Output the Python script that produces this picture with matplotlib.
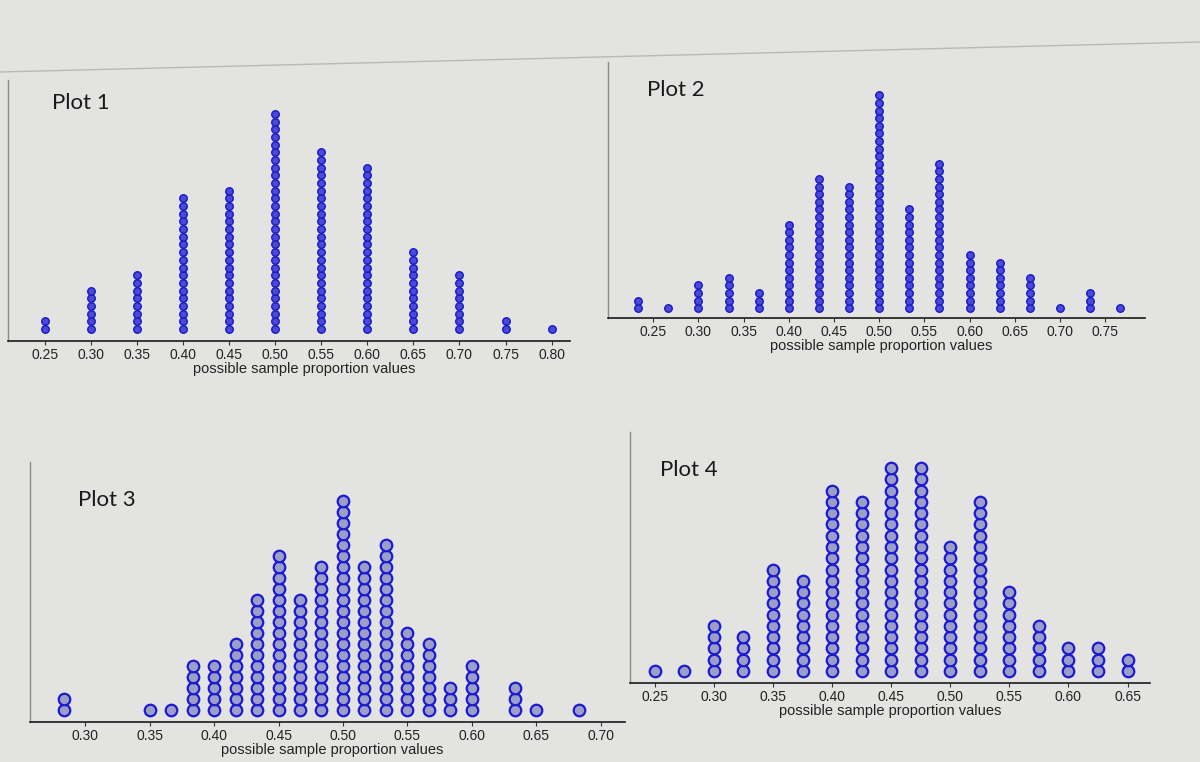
import numpy as np
import matplotlib
matplotlib.use("Agg")
import matplotlib.pyplot as plt
from matplotlib.lines import Line2D

# ---------------- data ----------------
# Plot 1: sample size 20
p1_values = [0.25, 0.30, 0.35, 0.40, 0.45, 0.50, 0.55, 0.60, 0.65, 0.70, 0.75, 0.80]
p1_counts = [2, 6, 8, 18, 19, 29, 24, 22, 11, 8, 2, 1]
p1_ticks = [0.25, 0.30, 0.35, 0.40, 0.45, 0.50, 0.55, 0.60, 0.65, 0.70, 0.75, 0.80]

# Plot 2: sample size 30
p2_n = 30
p2_numerators = [7, 8, 9, 10, 11, 12, 13, 14, 15, 16, 17, 18, 19, 20, 21, 22, 23]
p2_counts = [2, 1, 4, 5, 3, 12, 18, 17, 29, 14, 20, 8, 7, 5, 1, 3, 1]
p2_ticks = [0.25, 0.30, 0.35, 0.40, 0.45, 0.50, 0.55, 0.60, 0.65, 0.70, 0.75]

# Plot 3: sample size 60
p3_n = 60
p3_numerators = [17, 21, 22, 23, 24, 25, 26, 27, 28, 29, 30, 31, 32, 33, 34, 35, 36, 38, 39, 41]
p3_counts = [2, 1, 1, 5, 5, 7, 11, 15, 11, 14, 20, 14, 16, 8, 7, 3, 5, 3, 1, 1]
p3_ticks = [0.30, 0.35, 0.40, 0.45, 0.50, 0.55, 0.60, 0.65, 0.70]

# Plot 4: sample size 40
p4_n = 40
p4_numerators = [10, 11, 12, 13, 14, 15, 16, 17, 18, 19, 20, 21, 22, 23, 24, 25, 26]
p4_counts = [1, 1, 5, 4, 10, 9, 17, 16, 19, 19, 12, 16, 8, 5, 3, 3, 2]
p4_ticks = [0.25, 0.30, 0.35, 0.40, 0.45, 0.50, 0.55, 0.60, 0.65]

titles = ["Plot 1", "Plot 2", "Plot 3", "Plot 4"]
xlabel_text = "possible sample proportion values"

# ---------------- figure ----------------
W, H = 1200, 762
BG = "#e3e4e2"
fig = plt.figure(figsize=(12, 7.62), dpi=100, facecolor=BG)
plt.rcParams['font.family'] = ['Liberation Sans', 'DejaVu Sans']


def px_rect(left, top, right, bottom):
    return [left / W, 1 - bottom / H, (right - left) / W, (bottom - top) / H]


def dot_xy(values, counts):
    xs = np.repeat(np.asarray(values, float), counts)
    ys = np.concatenate([np.arange(1, c + 1) for c in counts])
    return xs, ys


def style_axes(ax, ticks, xlim, ylim, ticksize):
    ax.set_facecolor(BG)
    ax.set_xlim(*xlim)
    ax.set_ylim(*ylim)
    ax.set_xticks(ticks)
    ax.set_xticklabels([f"{t:.2f}" for t in ticks])
    ax.set_yticks([])
    for s in ("top", "right"):
        ax.spines[s].set_visible(False)
    ax.spines["left"].set_color("#8a8a8a")
    ax.spines["left"].set_linewidth(1.0)
    ax.spines["bottom"].set_color("#1a1a1a")
    ax.spines["bottom"].set_linewidth(1.2)
    ax.tick_params(axis="x", length=3, width=0.8, color="#333333",
                   labelsize=ticksize, labelcolor="#222222", pad=2)


small_face, small_edge = "#4a4ad8", "#1818c4"
big_face, big_edge = "#9c9ec8", "#1a1ad0"

specs = [
    dict(rect=(8, 80, 570, 341), values=p1_values, counts=p1_counts, ticks=p1_ticks,
         xlim=(0.21, 0.82), ylim=(-0.56, 33.4), ms=5.4, face=small_face, edge=small_edge, mew=1.0,
         title_xy=(52, 103), label_xy=(304, 369)),
    dict(rect=(608, 62, 1145, 318), values=[k / p2_n for k in p2_numerators], counts=p2_counts,
         ticks=p2_ticks, xlim=(0.200, 0.794), ylim=(-0.3, 33.4), ms=5.4, face=small_face,
         edge=small_edge, mew=1.0, title_xy=(647, 90), label_xy=(881, 346)),
    dict(rect=(30, 462, 625, 722), values=[k / p3_n for k in p3_numerators], counts=p3_counts,
         ticks=p3_ticks, xlim=(0.257, 0.719), ylim=(-0.1, 23.5), ms=8.3, face=big_face,
         edge=big_edge, mew=1.6, title_xy=(78, 500), label_xy=(332, 750)),
    dict(rect=(630, 432, 1150, 683), values=[k / p4_n for k in p4_numerators], counts=p4_counts,
         ticks=p4_ticks, xlim=(0.229, 0.669), ylim=(-0.06, 22.2), ms=8.3, face=big_face,
         edge=big_edge, mew=1.6, title_xy=(660, 470), label_xy=(890, 711)),
]

for title, sp in zip(titles, specs):
    ax = fig.add_axes(px_rect(*sp["rect"]))
    style_axes(ax, sp["ticks"], sp["xlim"], sp["ylim"], 10)
    xs, ys = dot_xy(sp["values"], sp["counts"])
    ax.plot(xs, ys, linestyle="none", marker="o", markersize=sp["ms"],
            markerfacecolor=sp["face"], markeredgecolor=sp["edge"],
            markeredgewidth=sp["mew"], clip_on=False)
    tx, ty = sp["title_xy"]
    fig.text(tx / W, 1 - ty / H, title, fontsize=16, family=['Lato', 'DejaVu Sans'],
             color="#1a1a1a", ha="left", va="center")
    lx, ly = sp["label_xy"]
    fig.text(lx / W, 1 - ly / H, xlabel_text, fontsize=10.5, color="#222222",
             ha="center", va="center")

# faint screen edge near the top of the photo
fig.add_artist(Line2D([0, 1], [1 - 72 / H, 1 - 42 / H], color="#b8b8b6", linewidth=1.0))

fig.savefig("out.png", dpi=100, facecolor=BG)
